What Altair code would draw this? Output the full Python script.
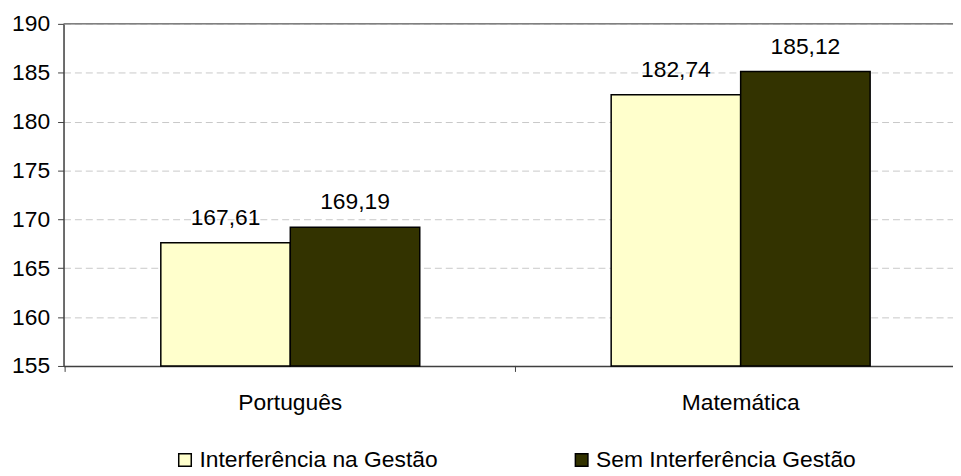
import altair as alt
import pandas as pd

categories = ["Português", "Matemática"]
series = ["Interferência na Gestão", "Sem Interferência Gestão"]
values_interf = [167.61, 182.74]
values_sem = [169.19, 185.12]
colors = ["#FFFFCC", "#333300"]
y_ticks = [155, 160, 165, 170, 175, 180, 185, 190]
Y_MIN, Y_MAX = 155, 190

rows = []
for i, c in enumerate(categories):
    for s, vals in zip(series, [values_interf, values_sem]):
        v = vals[i]
        rows.append({"cat": c, "serie": s, "valor": v,
                     "rotulo": f"{v:.2f}".replace(".", ",")})
df = pd.DataFrame(rows)
df_cat = pd.DataFrame({"cat": categories})
df_top = pd.DataFrame({"v": [Y_MAX]})

FONT = "Liberation Sans"
AXIS_COLOR = "#404040"

x_scale = alt.Scale(domain=categories, paddingInner=0.425, paddingOuter=0.2, align=0.54)
x_enc = alt.X("cat:N", sort=categories, title=None, scale=x_scale,
              axis=alt.Axis(ticks=False, labelAngle=0, labelFontSize=23, labelColor="black",
                            labelPadding=26, labelBaseline="top", labelFont=FONT,
                            domainColor=AXIS_COLOR, domainWidth=1.5))
y_scale = alt.Scale(domain=[Y_MIN, Y_MAX], nice=False, zero=False)
y_enc = alt.Y("valor:Q", scale=y_scale,
              axis=alt.Axis(values=y_ticks, title=None, grid=True, gridDash=[7, 4],
                            gridColor="#c8c8c8", gridWidth=1, tickSize=6, tickColor=AXIS_COLOR,
                            domainColor=AXIS_COLOR, domainWidth=1.5, labelFontSize=23,
                            labelFont=FONT, labelColor="black", labelPadding=8, format="d"))
xoff = alt.XOffset("serie:N", scale=alt.Scale(domain=series, paddingInner=0, paddingOuter=0))

color_enc = alt.Color("serie:N", scale=alt.Scale(domain=series, range=colors),
                      legend=alt.Legend(orient="none", legendX=111, legendY=428,
                                        direction="horizontal", title=None, symbolType="square",
                                        symbolSize=160, symbolStrokeColor="black",
                                        symbolStrokeWidth=1.5, labelFontSize=23, labelFont=FONT,
                                        labelColor="black", columnPadding=133, labelOffset=3,
                                        padding=0, labelLimit=400, symbolOpacity=1))

bars = alt.Chart(df).mark_bar(stroke="black", strokeWidth=1.5).encode(
    x=x_enc, xOffset=xoff, y=y_enc, y2=alt.datum(Y_MIN), color=color_enc
)
labels = alt.Chart(df).mark_text(dy=-18, baseline="alphabetic", fontSize=23, font=FONT,
                                 color="black").encode(
    x=alt.X("cat:N", sort=categories), xOffset=xoff, y=alt.Y("valor:Q"), text="rotulo:N"
)
# category separator ticks below the x axis (half of the inner padding before each band)
ticks = alt.Chart(df_cat).mark_rule(color=AXIS_COLOR, strokeWidth=1, xOffset=-96.5).encode(
    x=alt.X("cat:N", sort=categories, bandPosition=0), y=alt.value(345), y2=alt.value(351)
)
top = alt.Chart(df_top).mark_rule(color="#808080", strokeWidth=1.5).encode(y=alt.Y("v:Q"))

chart = alt.layer(bars, top, ticks, labels).properties(
    width=897, height=345,
    autosize=alt.AutoSizeParams(type="none"),
    padding={"left": 56, "top": 14, "right": 0, "bottom": 113},
).configure_view(stroke=None).configure(font=FONT)

chart.save("out.html", embed_options={"renderer": "svg", "actions": False})
